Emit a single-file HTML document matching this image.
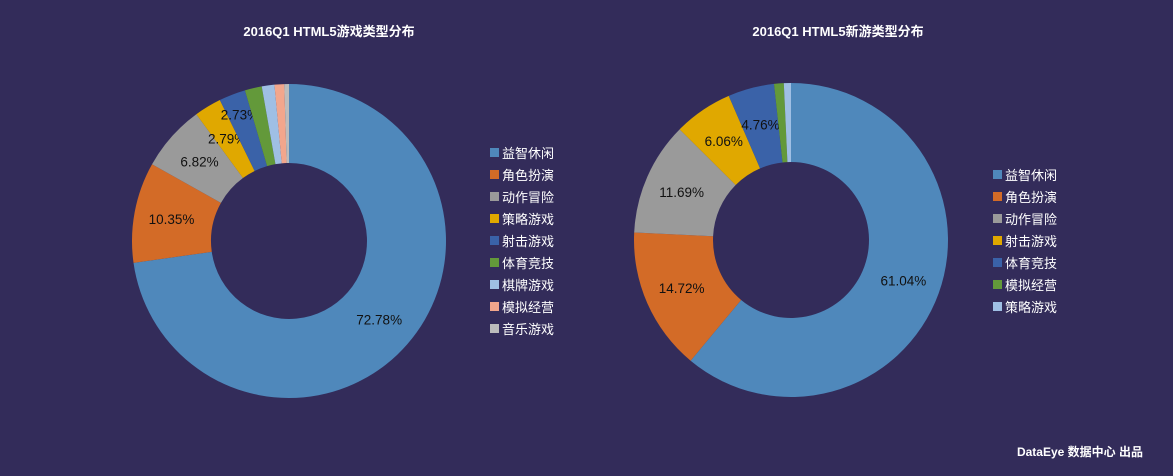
<!DOCTYPE html>
<html><head><meta charset="utf-8"><style>
html,body{margin:0;padding:0;background:#332c5a;}
svg{display:block;font-family:"Liberation Sans","Noto Sans CJK SC",sans-serif;}
</style></head><body>
<svg id="c" width="1173" height="476">
<rect width="1173" height="476" fill="#332c5a"/>
<text x="329" y="36" fill="#fff" font-size="13" font-weight="bold" text-anchor="middle">2016Q1 HTML5游戏类型分布</text>
<text x="838" y="36" fill="#fff" font-size="13" font-weight="bold" text-anchor="middle">2016Q1 HTML5新游类型分布</text>
<text x="1143" y="456" fill="#fff" font-size="12" font-weight="bold" text-anchor="end">DataEye 数据中心 出品</text>
</svg>
<script>
const leftCats=["益智休闲","角色扮演","动作冒险","策略游戏","射击游戏","体育竞技","棋牌游戏","模拟经营","音乐游戏"];
const leftVals=[72.78,10.35,6.82,2.79,2.73,1.75,1.3,1.0,0.48];
const rightCats=["益智休闲","角色扮演","动作冒险","射击游戏","体育竞技","模拟经营","策略游戏"];
const rightVals=[61.04,14.72,11.69,6.06,4.76,1.0,0.73];
const leftColors=["#4f88bb","#d36b27","#9a9a9a","#e0a800","#3a62a8","#63993a","#9fbfe4","#f2a68c","#bcbcbc"];
const rightColors=["#4f88bb","#d36b27","#9a9a9a","#e0a800","#3a62a8","#63993a","#9fbfe4"];
const NS="http://www.w3.org/2000/svg";
const svg=document.getElementById('c');
function mk(t,a){const e=document.createElementNS(NS,t);for(const k in a)e.setAttribute(k,a[k]);svg.appendChild(e);return e;}
function donut(cats,vals,colors,cx,cy,R,r,lx,ly,side){
  const tot=vals.reduce((a,b)=>a+b,0);let a0=0;
  const pt=(ang,rad)=>[cx+rad*Math.sin(ang),cy-rad*Math.cos(ang)];
  vals.forEach((v,i)=>{
    const a1=a0+v/tot*2*Math.PI;const lg=(a1-a0)>Math.PI?1:0;
    const p1=pt(a0,R),p2=pt(a1,R),p3=pt(a1,r),p4=pt(a0,r);
    const p=mk('path',{d:`M${p1[0]},${p1[1]}A${R},${R} 0 ${lg} 1 ${p2[0]},${p2[1]}L${p3[0]},${p3[1]}A${r},${r} 0 ${lg} 0 ${p4[0]},${p4[1]}Z`,fill:colors[i]});
    
    
    if(v>=2){
      let rad=(R+r)/2+2;
      if(v<3&&i>0&&vals[i-1]<3)rad+=16;
      const m=pt((a0+a1)/2,rad);
      const t=mk('text',{x:m[0],y:m[1]+5,'text-anchor':'middle','font-size':'13.5',fill:'#111'});
      t.textContent=v.toFixed(2)+'%';
      
      }
    a0=a1;
  });
  cats.forEach((c,i)=>{
    const y=ly+i*22;
    const s=mk('rect',{x:lx,y:y-5,width:9,height:9,fill:colors[i]});
    
    
    const t=mk('text',{x:lx+12,y:y+5,'font-size':'13',fill:'#fff'});
    t.textContent=c;
    
    
  });
}
donut(leftCats,leftVals,leftColors,289,241,157,78,490,153,'left');
donut(rightCats,rightVals,rightColors,791,240,157,78,993,175,'right');
</script>
</body></html>
